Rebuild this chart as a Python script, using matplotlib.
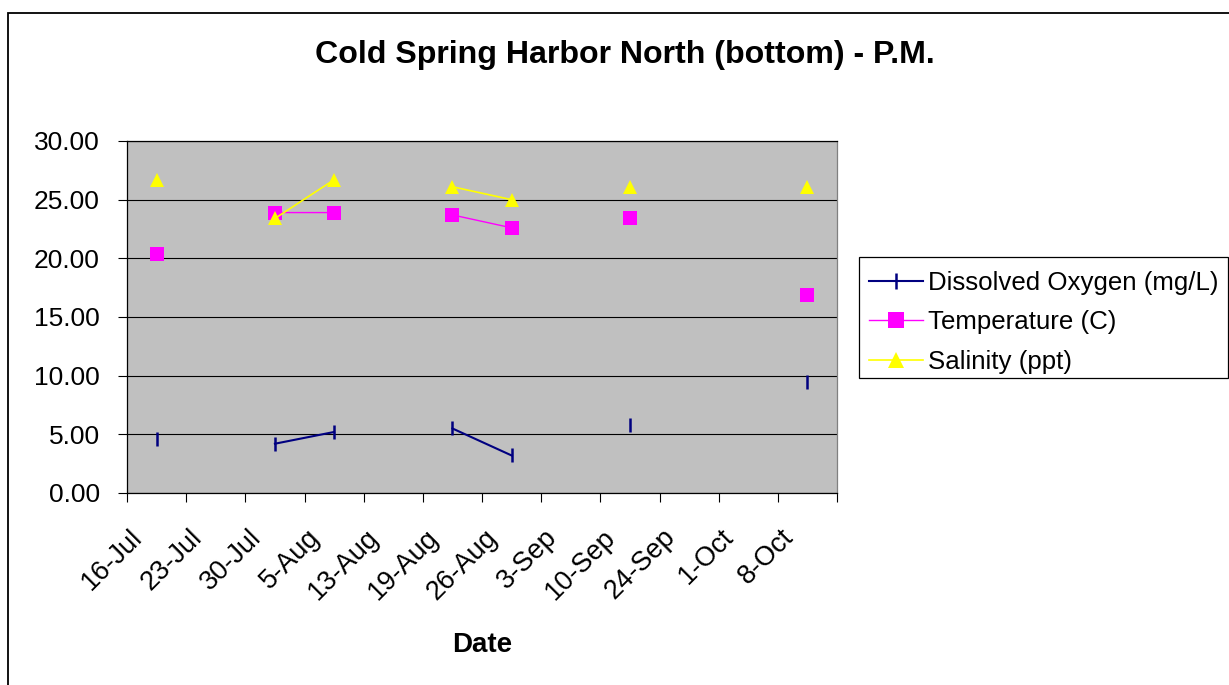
import numpy as np
import matplotlib
matplotlib.use("Agg")
import matplotlib.pyplot as plt
from matplotlib.patches import Rectangle
import matplotlib.transforms as mtransforms

plt.rcParams['font.family'] = ['Liberation Sans', 'DejaVu Sans']

dates = ["16-Jul", "23-Jul", "30-Jul", "5-Aug", "13-Aug", "19-Aug", "26-Aug",
         "3-Sep", "10-Sep", "24-Sep", "1-Oct", "8-Oct"]
nan = np.nan
dissolved_oxygen = [4.6, nan, 4.2, 5.2, nan, 5.5, 3.2, nan, 5.8, nan, nan, 9.5]
temperature = [20.4, nan, 23.9, 23.9, nan, 23.7, 22.6, nan, 23.4, nan, nan, 16.9]
salinity = [26.7, nan, 23.4, 26.7, nan, 26.1, 25.0, nan, 26.1, nan, nan, 26.1]
yticks = [0, 5, 10, 15, 20, 25, 30]

W, H = 1229, 685
fig = plt.figure(figsize=(W / 100, H / 100), dpi=100)
ax = fig.add_axes([127 / W, 1 - 493 / H, (837 - 127) / W, (493 - 141) / H])
ax.set_facecolor('#C0C0C0')

x = np.arange(len(dates))
l1, = ax.plot(x, dissolved_oxygen, color='#000080', lw=1.5, marker='|',
              ms=9.5, mew=1.8, label='Dissolved Oxygen (mg/L)', zorder=3)
l2, = ax.plot(x, temperature, color='#FF00FF', lw=1.0, marker='s',
              ms=9.6, mec='#FF00FF', mew=0, label='Temperature (C)', zorder=3)
l3, = ax.plot(x, salinity, color='#FFFF00', lw=1.2, marker='^',
              ms=10, mec='#FFFF00', mew=0, label='Salinity (ppt)', zorder=3)

ax.set_xlim(-0.5, len(dates) - 0.5)
ax.set_ylim(0, 30)
ax.set_yticks(yticks)
ax.set_yticklabels([f"{v:.2f}" for v in yticks])
ax.yaxis.grid(True, color='black', lw=0.8)
ax.set_axisbelow(True)

ax.set_xticks(np.arange(-0.5, len(dates), 1.0))
ax.set_xticklabels([])
ax.set_xticks(x, minor=True)
ax.set_xticklabels(dates, minor=True, rotation=45, ha='right', va='center',
                   rotation_mode='anchor')
ax.tick_params(axis='x', which='minor', length=0, pad=29, labelsize=19.5)
ax.tick_params(axis='x', which='major', length=6.5, width=0.8, direction='out')
ax.tick_params(axis='y', length=6.5, width=0.8, direction='out', pad=13, labelsize=19)
offset = mtransforms.ScaledTranslation(-18 / 100, 0, fig.dpi_scale_trans)
for lab in ax.get_xticklabels(minor=True):
    lab.set_transform(lab.get_transform() + offset)

for s in ['left', 'bottom', 'top']:
    ax.spines[s].set_color('black')
    ax.spines[s].set_linewidth(0.9)
ax.spines['right'].set_color('#808080')
ax.spines['right'].set_linewidth(0.9)

fig.text(624.5 / W, 1 - 55 / H, "Cold Spring Harbor North (bottom) - P.M.",
         ha='center', va='center', fontsize=23.1, fontweight='bold')
fig.text(482 / W, 1 - 645 / H, "Date", ha='center', va='center',
         fontsize=20, fontweight='bold')

leg = fig.legend(handles=[l1, l2, l3], loc='upper left',
                 bbox_to_anchor=(869 / W, 1 - 271 / H), fontsize=18.6,
                 frameon=False, handlelength=2.1, handletextpad=0.2,
                 labelspacing=0.6, borderpad=0.0, borderaxespad=0,
                 markerscale=1.2)
fig.patches.append(Rectangle((859 / W, 1 - 378 / H), (1228 - 859) / W,
                             (378 - 257) / H, transform=fig.transFigure,
                             facecolor='white', edgecolor='black', lw=0.9,
                             zorder=0))

fig.patches.append(Rectangle((8 / W, -0.05), 1.1, 1 - 12.5 / H + 0.05,
                             transform=fig.transFigure, fill=False,
                             edgecolor='black', lw=1.3))

fig.savefig('out.png', dpi=100)
